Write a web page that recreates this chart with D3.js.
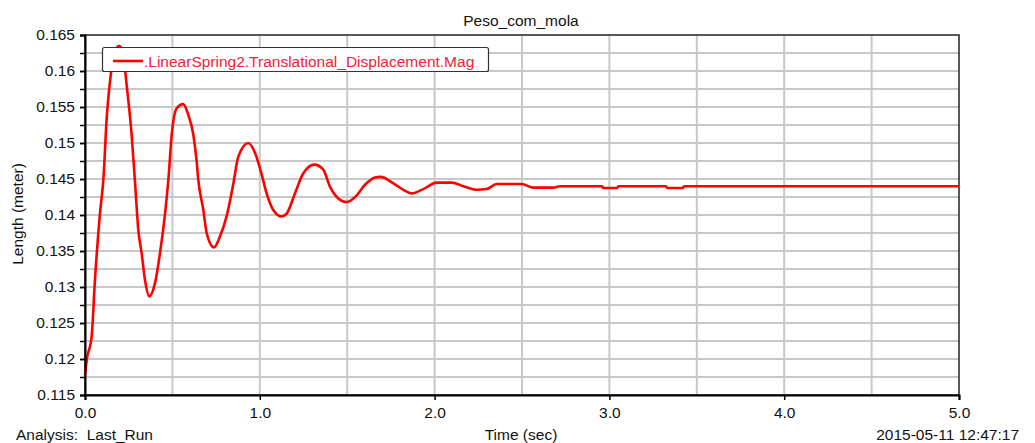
<!DOCTYPE html>
<html>
<head>
<meta charset="utf-8">
<script src="https://cdn.jsdelivr.net/npm/d3@7"></script>
<style>
  html, body { margin: 0; padding: 0; background: #fff; }
  svg { display: block; }
  text { font-family: "Liberation Sans", Arial, sans-serif; fill: #111; }
</style>
</head>
<body>
<svg id="chart" width="1035" height="443"></svg>
<script>
// Spring displacement magnitude over time (Last_Run)
const timeSec = [0, 0.01, 0.038, 0.057, 0.086, 0.105, 0.124, 0.147, 0.162, 0.196, 0.219, 0.238, 0.267, 0.286,
  0.305, 0.324, 0.343, 0.368, 0.40, 0.429, 0.458, 0.477, 0.496, 0.524, 0.562, 0.591, 0.62, 0.639, 0.648,
  0.677, 0.696, 0.738, 0.772, 0.81, 0.849, 0.877, 0.934, 0.973, 1.011, 1.039, 1.077, 1.125, 1.154, 1.201,
  1.249, 1.312, 1.363, 1.402, 1.449, 1.497, 1.545, 1.602, 1.659, 1.69, 1.764, 1.821, 1.869, 1.935, 2.012,
  2.098, 2.164, 2.241, 2.298, 2.355, 2.498, 2.565, 2.679, 2.717, 2.958, 2.965, 3.045, 3.05, 3.324, 3.33,
  3.42, 3.427, 4.0, 4.5, 5.0];
const lengthM = [0.1178, 0.1199, 0.1231, 0.1310, 0.1403, 0.1449, 0.1534, 0.1594, 0.1622, 0.1635, 0.1622,
  0.1581, 0.1511, 0.1446, 0.1379, 0.1347, 0.1310, 0.1287, 0.1305, 0.1347, 0.1402, 0.1449, 0.1511, 0.1548,
  0.1554, 0.1539, 0.1511, 0.1474, 0.1449, 0.1407, 0.1375, 0.1355, 0.1370, 0.1398, 0.1444, 0.1481, 0.1500,
  0.1486, 0.1456, 0.1430, 0.1407, 0.1398, 0.1402, 0.1430, 0.1458, 0.1470, 0.1463, 0.1439, 0.1423, 0.1418,
  0.1425, 0.1442, 0.1452, 0.1453, 0.1444, 0.1435, 0.1430, 0.1436, 0.1445, 0.1445, 0.1440, 0.1435, 0.1436,
  0.1443, 0.1443, 0.1438, 0.1438, 0.1440, 0.1440, 0.14375, 0.14375, 0.1440, 0.1440, 0.14375, 0.14375,
  0.1440, 0.1440, 0.1440, 0.1440];

const xTickLabels = ["0.0", "1.0", "2.0", "3.0", "4.0", "5.0"];
const yTickLabels = ["0.115", "0.12", "0.125", "0.13", "0.135", "0.14", "0.145", "0.15", "0.155", "0.16", "0.165"];

const titleText = "Peso_com_mola";
const seriesName = ".LinearSpring2.Translational_Displacement.Mag";
const yLabel = "Length (meter)";
const xLabel = "Time (sec)";
const runLabel = "Analysis:  Last_Run";
const stampLabel = "2015-05-11 12:47:17";

const svg = d3.select("#chart");
const plot = { left: 85, top: 35, right: 959, bottom: 395 };

const x = d3.scaleLinear().domain([0, 5]).range([plot.left, plot.right]);
const y = d3.scaleLinear().domain([0.115, 0.165]).range([plot.bottom, plot.top]);

// grid
const vGrid = d3.range(0.5, 5, 0.5);
const hGrid = d3.range(1, 20).map(i => 0.115 + i * 0.0025);
svg.append("g").selectAll("line").data(vGrid).join("line")
  .attr("x1", d => x(d)).attr("x2", d => x(d))
  .attr("y1", plot.top).attr("y2", plot.bottom)
  .attr("stroke", "#c8c8c8").attr("stroke-width", 2);
svg.append("g").selectAll("line").data(hGrid).join("line")
  .attr("x1", plot.left).attr("x2", plot.right)
  .attr("y1", d => y(d)).attr("y2", d => y(d))
  .attr("stroke", "#c8c8c8").attr("stroke-width", 2);

// frame
svg.append("rect")
  .attr("x", plot.left).attr("y", plot.top)
  .attr("width", plot.right - plot.left).attr("height", plot.bottom - plot.top)
  .attr("fill", "none").attr("stroke", "#222").attr("stroke-width", 1.5);

// curve
const pts = timeSec.map((t, i) => [t, lengthM[i]]);
const line = d3.line().x(d => x(d[0])).y(d => y(d[1])).curve(d3.curveMonotoneX);
svg.append("path").datum(pts)
  .attr("d", line)
  .attr("fill", "none").attr("stroke", "#ff0000").attr("stroke-width", 2.6)
  .attr("stroke-linejoin", "round");

// axes
const xAxis = d3.axisBottom(x)
  .tickValues(xTickLabels.map(Number))
  .tickFormat((d, i) => xTickLabels[i])
  .tickSize(5).tickPadding(7);
const gx = svg.append("g").attr("transform", `translate(0,${plot.bottom})`).call(xAxis);
gx.select(".domain").attr("stroke", "#000").attr("stroke-width", 2);
gx.selectAll(".tick line").attr("stroke", "#000").attr("stroke-width", 1.5);
gx.selectAll(".tick text").style("font-size", "15.5px").style("font-family", "Liberation Sans, Arial, sans-serif").attr("fill", "#111");

const yMinor = d3.range(0, 21).map(i => 0.115 + i * 0.0025);
const yAxisMinor = d3.axisLeft(y).tickValues(yMinor).tickFormat("").tickSize(5);
const gym = svg.append("g").attr("transform", `translate(${plot.left},0)`).call(yAxisMinor);
gym.select(".domain").remove();
gym.selectAll(".tick line").attr("stroke", "#000").attr("stroke-width", 1.5);

const yAxis = d3.axisLeft(y)
  .tickValues(yTickLabels.map(Number))
  .tickFormat((d, i) => yTickLabels[i])
  .tickSize(5).tickPadding(5);
const gy = svg.append("g").attr("transform", `translate(${plot.left},0)`).call(yAxis);
gy.select(".domain").attr("stroke", "#000").attr("stroke-width", 2);
gy.selectAll(".tick line").attr("stroke", "#000").attr("stroke-width", 1.5);
gy.selectAll(".tick text").style("font-size", "15.5px").style("font-family", "Liberation Sans, Arial, sans-serif").attr("fill", "#111");

// legend
const lg = svg.append("g");
lg.append("rect")
  .attr("x", 102.5).attr("y", 47.5).attr("width", 386).attr("height", 24).attr("rx", 2)
  .attr("fill", "#fff").attr("stroke", "#333").attr("stroke-width", 1.2);
lg.append("line")
  .attr("x1", 113).attr("x2", 143).attr("y1", 61).attr("y2", 61)
  .attr("stroke", "#ff0000").attr("stroke-width", 2.6);
lg.append("text")
  .attr("x", 144).attr("y", 66.5)
  .style("font-size", "15.5px").attr("fill", "#f2213a").style("fill", "#f2213a")
  .text(seriesName);

// labels
svg.append("text").attr("x", 521).attr("y", 26).attr("text-anchor", "middle")
  .style("font-size", "15.5px").text(titleText);
svg.append("text").attr("transform", "translate(22.5,214) rotate(-90)").attr("text-anchor", "middle")
  .style("font-size", "15.5px").text(yLabel);
svg.append("text").attr("x", 521).attr("y", 440).attr("text-anchor", "middle")
  .style("font-size", "15.5px").text(xLabel);
svg.append("text").attr("x", 16).attr("y", 440).attr("xml:space", "preserve").style("white-space", "pre")
  .style("font-size", "15.5px").text(runLabel);
svg.append("text").attr("x", 1019).attr("y", 440).attr("text-anchor", "end")
  .style("font-size", "15.5px").text(stampLabel);
</script>
</body>
</html>
